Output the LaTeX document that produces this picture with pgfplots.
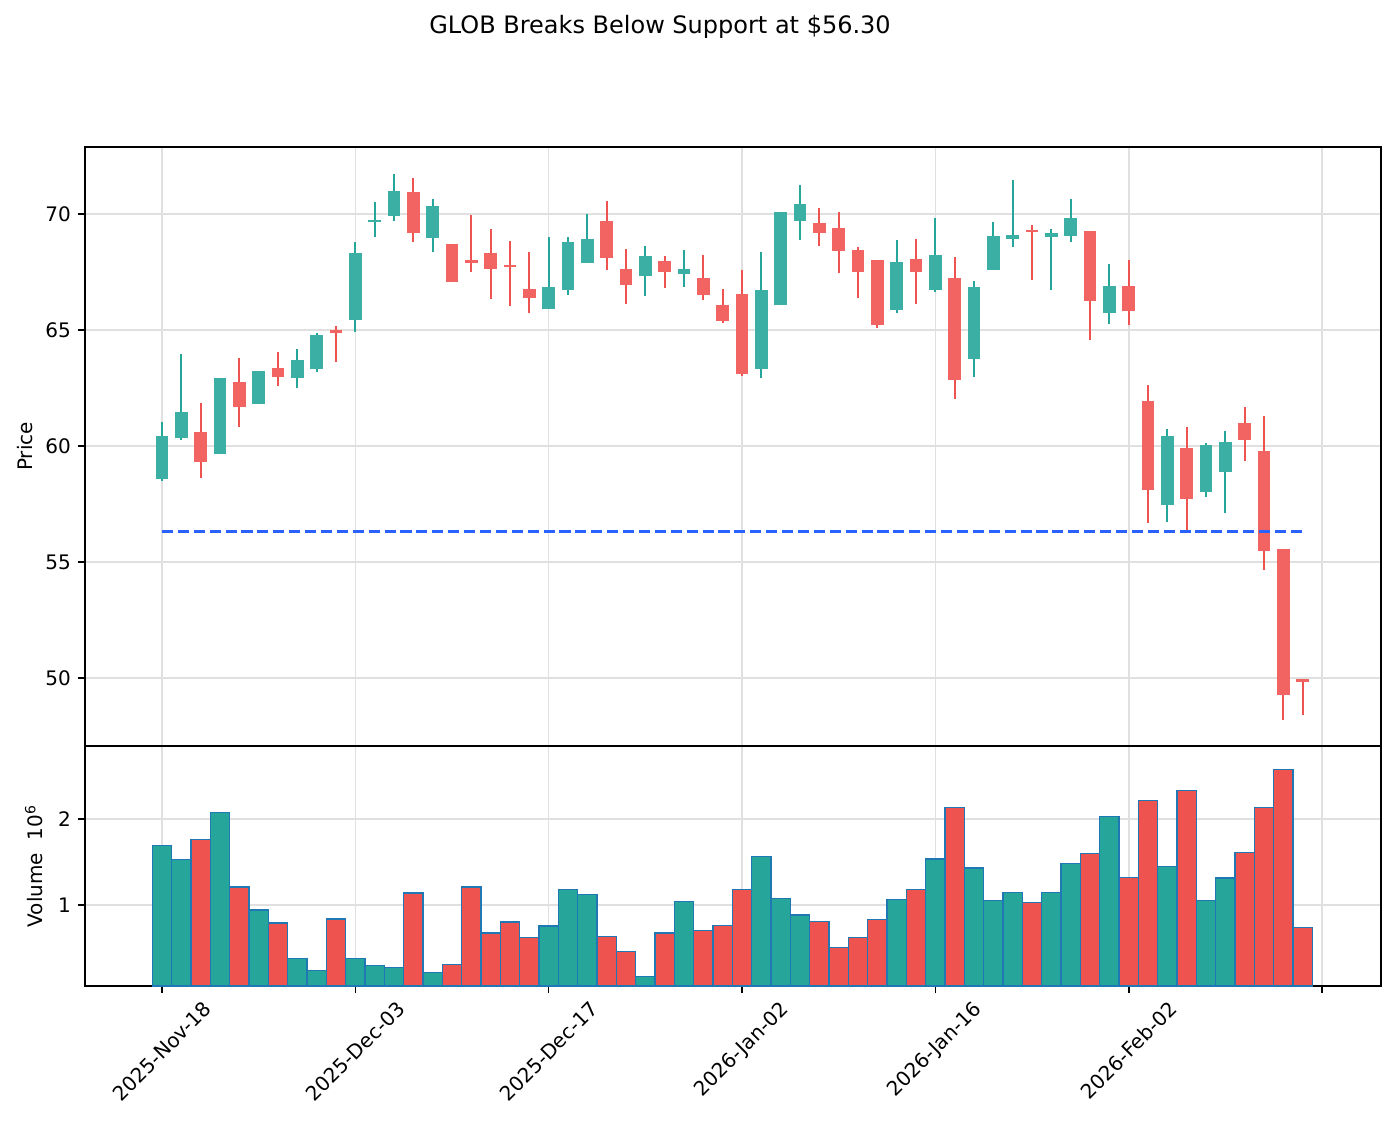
\documentclass[border=0pt]{standalone}
\usepackage{fontspec}
\setmainfont{DejaVu Sans}
\usepackage{graphicx}
\usepackage{pgfplots}
\pgfplotsset{compat=1.18}
\usepackage{pgfplotstable}

\definecolor{gup}{HTML}{26A69A}
\definecolor{gdn}{HTML}{EF5350}
\definecolor{gupL}{HTML}{3CAFA4}
\definecolor{gdnL}{HTML}{F16462}
\definecolor{volEdge}{HTML}{1F77B4}
\definecolor{supp}{HTML}{2962FF}
\definecolor{gridc}{HTML}{E0E0E0}

% up candles: index, open, high, low, close, volume (millions)
\pgfplotstableread{
i O H L C V
0 58.56 61.02 58.50 60.44 1.694
1 60.33 63.97 60.28 61.48 1.523
3 59.64 62.92 59.64 62.92 2.078
5 61.80 63.22 61.80 63.22 0.938
7 62.92 64.18 62.50 63.69 0.369
8 63.31 64.86 63.20 64.77 0.233
10 65.42 68.79 64.93 68.33 0.369
11 69.65 70.50 69.02 69.72 0.287
12 69.90 71.71 69.71 71.00 0.264
14 68.95 70.63 68.38 70.36 0.209
20 65.89 69.01 65.89 66.84 0.751
21 66.71 69.01 66.52 68.78 1.180
22 67.87 70.00 67.87 68.94 1.120
25 67.31 68.62 66.48 68.20 0.165
27 67.40 68.45 66.87 67.62 1.040
31 63.31 68.36 62.94 66.74 1.565
32 66.06 70.10 66.06 70.10 1.075
33 69.69 71.25 68.89 70.42 0.880
38 65.86 68.88 65.75 67.94 1.063
40 66.72 69.81 66.65 68.25 1.533
42 63.74 67.10 62.99 66.84 1.428
43 67.59 69.66 67.59 69.07 1.051
44 68.92 71.47 68.59 69.08 1.145
46 69.01 69.34 66.74 69.19 1.145
47 69.05 70.63 68.81 69.81 1.483
49 65.72 67.83 65.27 66.91 2.031
52 57.46 60.72 56.74 60.44 1.448
54 58.02 60.12 57.81 60.06 1.051
55 58.88 60.63 57.12 60.19 1.312
}\upT

% down candles
\pgfplotstableread{
i O H L C V
2 60.62 61.84 58.63 59.32 1.764
4 62.74 63.78 60.83 61.67 1.206
6 63.35 64.04 62.60 62.96 0.787
9 64.98 65.17 63.63 64.88 0.834
13 70.96 71.54 68.81 69.18 1.136
15 68.72 68.72 67.06 67.06 0.299
16 68.02 69.96 67.51 67.89 1.206
17 68.33 69.35 66.34 67.63 0.671
18 67.74 68.84 66.05 67.70 0.799
19 66.75 68.36 65.73 66.38 0.613
23 69.69 70.56 67.60 68.09 0.630
24 67.62 68.48 66.13 66.93 0.456
26 67.96 68.18 66.82 67.49 0.670
28 67.23 68.23 66.31 66.51 0.700
29 66.09 66.77 65.31 65.38 0.760
30 66.56 67.59 63.03 63.09 1.180
34 69.60 70.25 68.63 69.18 0.806
35 69.38 70.07 67.47 68.41 0.503
36 68.43 68.56 66.39 67.50 0.620
37 68.00 68.00 65.07 65.22 0.830
39 68.05 68.92 66.13 67.50 1.180
41 67.23 68.13 62.04 62.84 2.136
45 69.30 69.51 67.17 69.24 1.028
48 69.28 69.28 64.58 66.25 1.600
50 66.91 68.02 65.23 65.81 1.320
51 61.95 62.63 56.69 58.10 2.218
53 59.93 60.81 56.31 57.72 2.335
56 61.00 61.67 59.37 60.24 1.611
57 59.80 61.29 54.67 55.47 2.136
58 55.57 55.57 48.20 49.27 2.580
59 49.94 49.94 48.42 49.81 0.736
}\downT

\pgfplotsset{
  myaxis/.style={
    scale only axis, width=648pt,
    xmin=-3.98, xmax=63.05,
    xtick={0,10,20,30,40,50,60},
    grid=major,
    major grid style={gridc, line width=0.8pt},
    axis line style={line width=0.8pt},
    tick align=outside, tick pos=left,
    major tick length=3.5pt,
    every tick/.style={black, line width=0.8pt},
    /pgf/number format/assume math mode=true,
    tick label style={font=\fontsize{10}{12}\selectfont},
    label style={font=\fontsize{10}{12}\selectfont},
  },
  wick/.style={draw=none, mark=none, forget plot,
    error bars/.cd, y dir=plus, y explicit, error mark=none,
    error bar style={line width=1pt, draw=#1, line cap=butt}},
  body/.style={draw=none, mark=none, forget plot,
    error bars/.cd, y dir=plus, y explicit, error mark=none,
    error bar style={line width=6.4pt, draw=#1, line cap=butt}},
}

\begin{document}
\begin{tikzpicture}
\path[use as bounding box] (0,0) rectangle (697.5pt,-563pt);
\node[font=\fontsize{12}{14.4}\selectfont] at (330pt,-13.5pt) {GLOB Breaks Below Support at \$56.30};

% price panel
\begin{axis}[myaxis,
  at={(42.5pt,-73.5pt)}, anchor=north west, height=299.5pt,
  ymin=47.069, ymax=72.888, ytick={50,55,60,65,70},
  xticklabels={},
  every x tick/.append style={draw=none},
  ylabel={Price},
  ylabel style={at={(axis description cs:-0.0463,0.5)}, anchor=center},
]
\addplot[wick=gup] table[x=i, y=L, y error expr=\thisrow{H}-\thisrow{L}] {\upT};
\addplot[wick=gdn] table[x=i, y=L, y error expr=\thisrow{H}-\thisrow{L}] {\downT};
\addplot[body=gupL] table[x=i, y=O, y error expr={max(\thisrow{C}-\thisrow{O},0.09)}] {\upT};
\addplot[body=gdnL] table[x=i, y=C, y error expr={max(\thisrow{O}-\thisrow{C},0.09)}] {\downT};
\addplot[supp, line width=1.5pt, dash pattern=on 5.55pt off 2.4pt] coordinates {(0,56.3) (59,56.3)};
\end{axis}

% volume panel
\begin{axis}[myaxis,
  at={(42.5pt,-373pt)}, anchor=north west, height=120pt,
  ymin=0.051, ymax=2.852, ytick={1,2},
  xticklabels={{\rotatebox{45}{2025-Nov-18}},{\rotatebox{45}{2025-Dec-03}},{\rotatebox{45}{2025-Dec-17}},{\rotatebox{45}{2026-Jan-02}},{\rotatebox{45}{2026-Jan-16}},{\rotatebox{45}{2026-Feb-02}},{}},
  xticklabel style={anchor=north},
  ylabel={Volume\ \ 10\textsuperscript{6}},
  ylabel style={at={(axis description cs:-0.0394,0.5)}, anchor=center},
]
\addplot[ybar, bar width=1, bar shift=0pt, fill=gup, draw=volEdge, line width=0.6pt] table[x=i, y=V] {\upT};
\addplot[ybar, bar width=1, bar shift=0pt, fill=gdn, draw=volEdge, line width=0.6pt] table[x=i, y=V] {\downT};
\end{axis}
\end{tikzpicture}
\end{document}
